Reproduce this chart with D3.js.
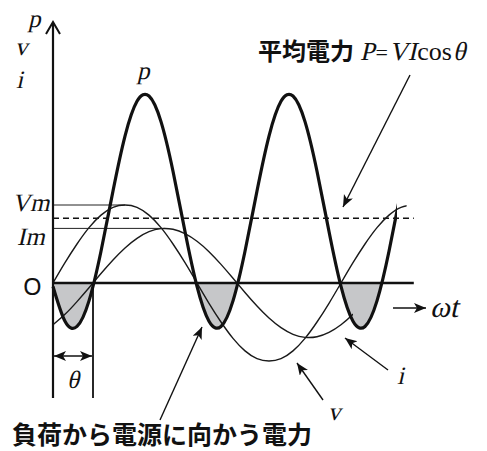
<!DOCTYPE html>
<html>
<head>
<meta charset="utf-8">
<script src="https://cdn.jsdelivr.net/npm/d3@7"></script>
<style>
  html, body { margin: 0; padding: 0; background: #fff; }
</style>
</head>
<body>
<div id="chart"></div>
<script>
// angle ωt in degrees, sampled every 15°
var wt = [0, 15, 30, 45, 60, 75, 90, 105, 120, 135, 150, 165, 180, 195, 210, 225,
  240, 255, 270, 285, 300, 315, 330, 345, 360, 375, 390, 405, 420, 435, 450];
// voltage v (Vm = 100)
var vVals = [0, 26, 50, 71, 87, 97, 100, 97, 87, 71, 50, 26, 0, -26, -50, -71,
  -87, -97, -100, -97, -87, -71, -50, -26, 0, 26, 50, 71, 87, 97, 100];
// current i, lagging by θ
var iVals = [-53.6, -40.2, -23.9, -6.1, 12.2, 29.6, 45.0, 57.3, 65.8, 69.7, 68.9, 63.4,
  53.6, 40.2, 23.9, 6.1, -12.2, -29.6, -45.0, -57.3, -65.8, -69.7, -68.9, -63.4,
  -53.6, -40.2, -23.9, -6.1, 12.2, 29.6, 45.0];
// instantaneous power p
var pVals = [-4.4, -49, -55.7, -22.9, 40.7, 118, 188.4, 233, 239.7, 206.9, 143.3, 66,
  -4.4, -49, -55.7, -22.9, 40.7, 118, 188.4, 233, 239.7, 206.9, 143.3, 66,
  -4.4, -49, -55.7, -22.9, 40.7, 118, 188.4];
// visible range of each curve (degrees)
var vSpan = [0, 442];
var iSpan = [0, 375];
var pSpan = [0, 430];
var avgP = 83;          // average power P
var vPeak = [90, 100];  // Vm
var iPeak = [140, 70];  // Im
var theta = 50;
var axisEnd = 451;      // end of ωt axis (degrees)

var width = 487, height = 451;
var SERIF = "'Liberation Serif', 'DejaVu Serif', serif";
var JP = "'Noto Sans CJK JP', sans-serif";

var svg = d3.select("#chart").append("svg")
  .attr("width", width)
  .attr("height", height);

var x = d3.scaleLinear().domain([0, 360]).range([53, 341]);
var y = d3.scaleLinear().domain([-150, 250]).range([400, 88]);

var defs = svg.append("defs");
defs.append("marker")
  .attr("id", "head")
  .attr("markerUnits", "userSpaceOnUse")
  .attr("markerWidth", 14).attr("markerHeight", 14)
  .attr("refX", 12).attr("refY", 5)
  .attr("orient", "auto-start-reverse")
  .append("path")
  .attr("d", "M0,0 L12,5 L0,10 L3,5 Z")
  .attr("fill", "#111");

function clip(id, x0, x1, y0, y1) {
  defs.append("clipPath").attr("id", id)
    .append("rect")
    .attr("x", x0).attr("y", y0)
    .attr("width", x1 - x0).attr("height", y1 - y0);
}
clip("clip-v", 0, x(vSpan[1]), 0, height);
clip("clip-i", 0, x(iSpan[1]), 0, height);
clip("clip-p", 0, x(pSpan[1]), 0, height);
clip("clip-neg", x(0), x(412), y(0), height);

var rows = wt.map(function(d, k) {
  return { wt: d, v: vVals[k], i: iVals[k], p: pVals[k] };
});

function line(key) {
  return d3.line()
    .x(function(d) { return x(d.wt); })
    .y(function(d) { return y(d[key]); })
    .curve(d3.curveNatural);
}

// negative power (shaded)
svg.append("path")
  .datum(rows)
  .attr("clip-path", "url(#clip-neg)")
  .attr("fill", "#c6c7c9")
  .attr("d", d3.area()
    .x(function(d) { return x(d.wt); })
    .y0(y(0))
    .y1(function(d) { return y(d.p); })
    .curve(d3.curveNatural));

// Vm / Im guide lines
svg.append("line")
  .attr("x1", x(0)).attr("x2", x(vPeak[0]))
  .attr("y1", y(vPeak[1])).attr("y2", y(vPeak[1]))
  .attr("stroke", "#222").attr("stroke-width", 1);
svg.append("line")
  .attr("x1", x(0)).attr("x2", x(iPeak[0]))
  .attr("y1", y(iPeak[1])).attr("y2", y(iPeak[1]))
  .attr("stroke", "#222").attr("stroke-width", 1);

// average power (dashed)
svg.append("line")
  .attr("x1", x(0)).attr("x2", x(axisEnd))
  .attr("y1", y(avgP)).attr("y2", y(avgP))
  .attr("stroke", "#111").attr("stroke-width", 1.6)
  .attr("stroke-dasharray", "6,4");

// v and i
svg.append("path").datum(rows)
  .attr("clip-path", "url(#clip-v)")
  .attr("fill", "none").attr("stroke", "#1a1a1a").attr("stroke-width", 1.4)
  .attr("d", line("v"));
svg.append("path").datum(rows)
  .attr("clip-path", "url(#clip-i)")
  .attr("fill", "none").attr("stroke", "#1a1a1a").attr("stroke-width", 1.4)
  .attr("d", line("i"));

// ωt axis
svg.append("line")
  .attr("x1", x(0)).attr("x2", x(axisEnd))
  .attr("y1", y(0)).attr("y2", y(0))
  .attr("stroke", "#111").attr("stroke-width", 2.6);

// p
svg.append("path").datum(rows)
  .attr("clip-path", "url(#clip-p)")
  .attr("fill", "none").attr("stroke", "#111").attr("stroke-width", 3.2)
  .attr("stroke-linejoin", "round")
  .attr("d", line("p"));

// vertical axis with open arrow
svg.append("line")
  .attr("x1", x(0)).attr("x2", x(0))
  .attr("y1", 23).attr("y2", 398)
  .attr("stroke", "#111").attr("stroke-width", 2.2);
svg.append("path")
  .attr("d", "M" + (x(0) - 7) + ",34 L" + x(0) + ",22 L" + (x(0) + 7) + ",34")
  .attr("fill", "none").attr("stroke", "#111").attr("stroke-width", 2);

// θ marker
svg.append("line")
  .attr("x1", x(theta)).attr("x2", x(theta))
  .attr("y1", y(0)).attr("y2", 398)
  .attr("stroke", "#111").attr("stroke-width", 1.8);
svg.append("line")
  .attr("x1", x(0) + 1).attr("x2", x(theta) - 1)
  .attr("y1", 356).attr("y2", 356)
  .attr("stroke", "#111").attr("stroke-width", 1.3)
  .attr("marker-start", "url(#head)")
  .attr("marker-end", "url(#head)");

// serif text, slanted by a skew so it looks like math italic
function mathText(t, px, py, size, anchor, upright) {
  var g = svg.append("g")
    .attr("transform", "translate(" + px + "," + py + ")" + (upright ? "" : " skewX(-13)"));
  var txt = g.append("text")
    .attr("font-family", SERIF)
    .attr("font-size", size).attr("fill", "#111")
    .attr("text-anchor", anchor || "start")
    .text(t);
  return txt.node().getComputedTextLength();
}

mathText("θ", x(theta / 2), 388, 25, "middle");

// ωt arrow
svg.append("line")
  .attr("x1", 393).attr("x2", 426)
  .attr("y1", 308).attr("y2", 308)
  .attr("stroke", "#111").attr("stroke-width", 1.5)
  .attr("marker-end", "url(#head)");
mathText("ωt", 430, 317, 30);

// axis labels
mathText("p", 28, 27, 25);
mathText("v", 15, 55, 25);
mathText("i", 16, 88, 25);
mathText("p", 137, 79, 25);
mathText("Vm", 12, 211, 25);
mathText("Im", 17, 245, 25);

svg.append("text")
  .attr("x", 23).attr("y", 295)
  .attr("font-family", "'Noto Sans', sans-serif").attr("font-size", 24)
  .attr("fill", "#111")
  .text("O");

// title: average power
var jt = svg.append("text").attr("x", 258).attr("y", 60)
  .attr("font-family", JP).attr("font-weight", 700)
  .attr("font-size", 24).attr("fill", "#111")
  .text("平均電力");
var cx = 258 + jt.node().getComputedTextLength() + 6;
cx += mathText("P", cx, 60, 26) + 1;
cx += mathText("=", cx, 60, 22, "start", true) + 1;
cx += mathText("VI", cx, 60, 26) + 1;
cx += mathText("cos", cx, 60, 26, "start", true) + 1;
mathText("θ", cx, 60, 26);

// bottom label
svg.append("text")
  .attr("x", 12).attr("y", 444)
  .attr("font-family", JP).attr("font-weight", 700)
  .attr("font-size", 25).attr("fill", "#111")
  .text("負荷から電源に向かう電力");

// annotation arrows
var arrows = [
  [410, 75, 343, 207],
  [160, 420, 202, 327],
  [323, 400, 297, 363],
  [388, 370, 345, 338]
];
svg.selectAll(".ann").data(arrows).enter().append("line")
  .attr("class", "ann")
  .attr("x1", function(d) { return d[0]; })
  .attr("y1", function(d) { return d[1]; })
  .attr("x2", function(d) { return d[2]; })
  .attr("y2", function(d) { return d[3]; })
  .attr("stroke", "#111").attr("stroke-width", 1.4)
  .attr("marker-end", "url(#head)");

mathText("v", 328, 420, 25);
mathText("i", 397, 384, 25);
</script>
</body>
</html>
